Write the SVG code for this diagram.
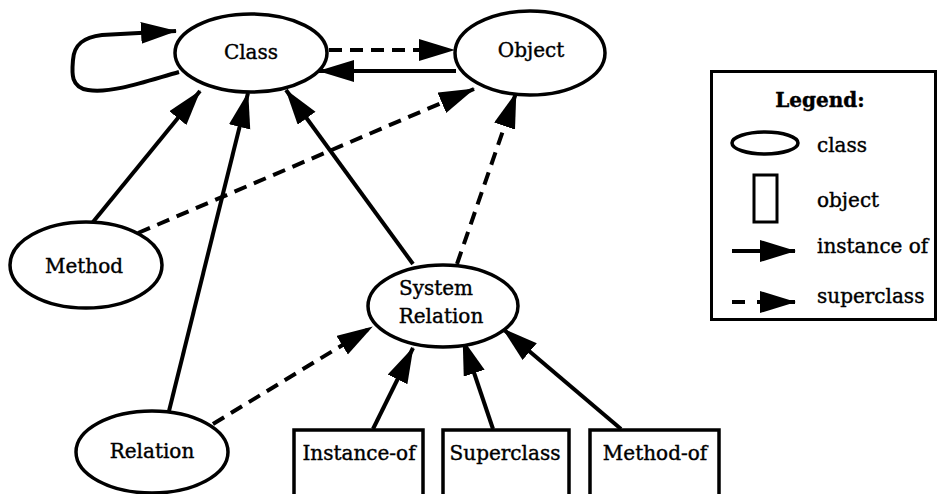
<svg xmlns="http://www.w3.org/2000/svg" width="938" height="494" viewBox="0 0 938 494">
<style>
.node{fill:#fff;stroke:#000;stroke-width:3.5}
.t{font-family:"DejaVu Serif","Liberation Serif",serif;font-size:20px;fill:#000;stroke:#000;stroke-width:0.4;text-anchor:middle}
.lt{font-family:"DejaVu Serif","Liberation Serif",serif;font-size:20px;fill:#000;stroke:#000;stroke-width:0.4}
.solid{fill:none;stroke:#000;stroke-width:4}
.dash{fill:none;stroke:#000;stroke-width:4;stroke-dasharray:13 8}
</style>
<defs>
<marker id="ah" markerUnits="userSpaceOnUse" markerWidth="38" markerHeight="24" refX="35" refY="11" orient="auto">
<path d="M0,0 L36,11 L0,22 z" fill="#000"/>
</marker>
</defs>
<g id="connectors">
<path class="solid" d="M179,72 C150,80 112,94 88,90 C70,87 72,72 73,60 C74,44 84,37 102,35 L176,31" marker-end="url(#ah)"/>
<line class="dash" x1="329" y1="50" x2="454" y2="50" marker-end="url(#ah)"/>
<line class="solid" x1="456" y1="71" x2="319" y2="71" marker-end="url(#ah)"/>
<line class="solid" x1="93" y1="222" x2="200" y2="91" marker-end="url(#ah)"/>
<line class="solid" x1="169" y1="411" x2="248" y2="93" marker-end="url(#ah)"/>
<line class="solid" x1="413" y1="264" x2="286" y2="90" marker-end="url(#ah)"/>
<line class="dash" x1="138" y1="233" x2="474" y2="89" marker-end="url(#ah)"/>
<line class="dash" x1="457" y1="264" x2="516" y2="93" marker-end="url(#ah)"/>
<line class="dash" x1="213" y1="424" x2="372" y2="327" marker-end="url(#ah)"/>
<line class="solid" x1="373" y1="429" x2="413" y2="348" marker-end="url(#ah)"/>
<line class="solid" x1="493" y1="429" x2="463" y2="340" marker-end="url(#ah)"/>
<line class="solid" x1="621" y1="429" x2="503" y2="329" marker-end="url(#ah)"/>
</g>
<g id="class"><ellipse class="node" cx="251" cy="53" rx="76" ry="39"/><text class="t" x="251" y="59">Class</text></g>
<g id="object"><ellipse class="node" cx="530" cy="53" rx="75" ry="42"/><text class="t" x="531" y="57">Object</text></g>
<g id="method"><ellipse class="node" cx="86" cy="265" rx="76" ry="43"/><text class="t" x="84" y="273">Method</text></g>
<g id="relation"><ellipse class="node" cx="152" cy="452" rx="76" ry="41"/><text class="t" x="152" y="458">Relation</text></g>
<g id="system-relation"><ellipse class="node" cx="443" cy="306" rx="75" ry="41"/><text class="t" x="436" y="295">System</text><text class="t" x="441" y="323">Relation</text></g>
<g id="instance-of"><rect class="node" x="294" y="430" width="129" height="70"/><text class="t" x="359" y="460">Instance-of</text></g>
<g id="superclass"><rect class="node" x="443" y="430" width="126" height="70"/><text class="t" x="505" y="460">Superclass</text></g>
<g id="method-of"><rect class="node" x="590" y="430" width="129" height="70"/><text class="t" x="655" y="460">Method-of</text></g>
<g id="legend">
<rect x="711.5" y="71.5" width="224" height="248" fill="none" stroke="#000" stroke-width="3"/>
<text class="t" x="820" y="107" font-weight="bold">Legend:</text>
<ellipse cx="765" cy="143" rx="33" ry="11" fill="none" stroke="#000" stroke-width="3.5"/>
<text class="lt" x="817" y="152">class</text>
<rect x="754" y="175" width="23" height="47" fill="none" stroke="#000" stroke-width="3"/>
<text class="lt" x="817" y="207">object</text>
<line class="solid" x1="732" y1="251" x2="795" y2="251" marker-end="url(#ah)"/>
<text class="lt" x="817" y="253">instance of</text>
<line x1="732" y1="302" x2="745" y2="302" stroke="#000" stroke-width="4"/>
<line x1="757" y1="302" x2="795" y2="302" stroke="#000" stroke-width="4" marker-end="url(#ah)"/>
<text class="lt" x="817" y="303">superclass</text>
</g>
</svg>
